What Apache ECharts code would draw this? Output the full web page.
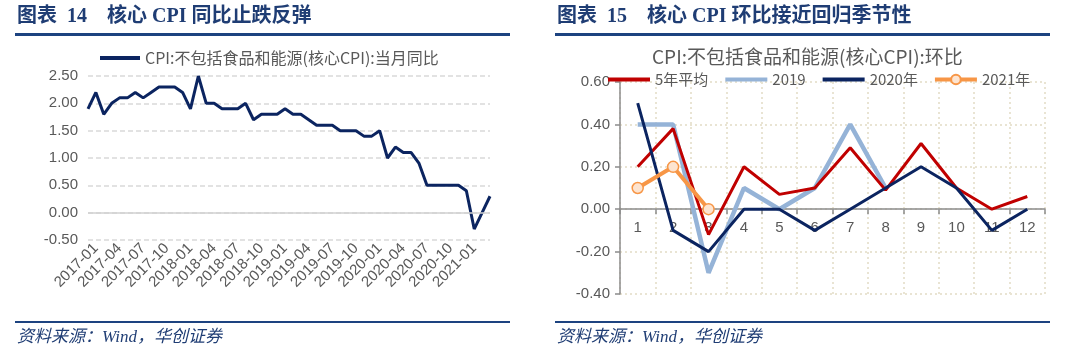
<!DOCTYPE html>
<html>
<head>
<meta charset="utf-8">
<script src="https://cdn.jsdelivr.net/npm/echarts@6/dist/echarts.min.js"></script>
<style>
html,body{margin:0;padding:0;background:#fff;}
#c{width:1080px;height:356px;}
</style>
</head>
<body>
<div id="c"></div>
<script>
// ---- Left chart data: core CPI YoY (%) ----
var yoyMonths = [
 '2016-12',
 '2017-01','2017-02','2017-03','2017-04','2017-05','2017-06','2017-07','2017-08','2017-09','2017-10','2017-11','2017-12',
 '2018-01','2018-02','2018-03','2018-04','2018-05','2018-06','2018-07','2018-08','2018-09','2018-10','2018-11','2018-12',
 '2019-01','2019-02','2019-03','2019-04','2019-05','2019-06','2019-07','2019-08','2019-09','2019-10','2019-11','2019-12',
 '2020-01','2020-02','2020-03','2020-04','2020-05','2020-06','2020-07','2020-08','2020-09','2020-10','2020-11','2020-12',
 '2021-01','2021-02','2021-03'
];
var yoyValues = [
 1.9,
 2.2,1.8,2.0,2.1,2.1,2.2,2.1,2.2,2.3,2.3,2.3,2.2,
 1.9,2.5,2.0,2.0,1.9,1.9,1.9,2.0,1.7,1.8,1.8,1.8,
 1.9,1.8,1.8,1.7,1.6,1.6,1.6,1.5,1.5,1.5,1.4,1.4,
 1.5,1.0,1.2,1.1,1.1,0.9,0.5,0.5,0.5,0.5,0.5,0.4,
 -0.3,0.0,0.3
];
var yoyName = 'CPI:不包括食品和能源(核心CPI):当月同比';

// ---- Right chart data: core CPI MoM (%) ----
var momMonths = ['1','2','3','4','5','6','7','8','9','10','11','12'];
var avg5y  = [0.20, 0.38, -0.12, 0.20, 0.07, 0.10, 0.29, 0.09, 0.31, 0.10, 0.00, 0.06];
var y2019  = [0.40, 0.40, -0.30, 0.10, 0.00, 0.10, 0.40, 0.10, null, null, null, null];
var y2020  = [0.50, -0.10, -0.20, 0.00, 0.00, -0.10, 0.00, 0.10, 0.20, 0.10, -0.10, 0.00];
var y2021  = [0.10, 0.20, 0.00];
var momNames = ['5年平均', '2019', '2020年', '2021年'];
var momTitle = 'CPI:不包括食品和能源(核心CPI):环比';

var chart = echarts.init(document.getElementById('c'), null, {renderer:'canvas'});

var cjk = '"Noto Sans CJK SC", sans-serif';
var num = '"Liberation Sans", Arial, sans-serif';
var grey = '#595959';
var hdrBlue = '#1f3d74';
var lineBlue = '#1d4380';

// right chart geometry (grid)
var rMin = -0.4, rMax = 0.6, rGridH = 212;
var rZeroOffset = -rGridH * (0 - rMin) / (rMax - rMin);

var hdrFont = 'bold 20px "Liberation Serif", "Noto Sans CJK SC"';
var ftrFont = 'italic 17px "Liberation Serif", "Noto Sans CJK SC"';

var option = {
  animation: false,
  backgroundColor: '#ffffff',
  graphic: [
    {type:'text', left:17, top:7, style:{text:'图表  14    核心 CPI 同比止跌反弹', font:hdrFont, fill:hdrBlue}},
    {type:'text', left:557, top:7, style:{text:'图表  15    核心 CPI 环比接近回归季节性', font:hdrFont, fill:hdrBlue}},
    {type:'rect', shape:{x:15, y:33, width:495, height:3}, style:{fill:lineBlue}},
    {type:'rect', shape:{x:555, y:33, width:495, height:3}, style:{fill:lineBlue}},
    {type:'rect', shape:{x:15, y:321, width:495, height:2}, style:{fill:lineBlue}},
    {type:'rect', shape:{x:555, y:321, width:495, height:2}, style:{fill:lineBlue}},
    {type:'text', left:17, top:329, style:{text:'资料来源：Wind，华创证券', font:ftrFont, fill:hdrBlue}},
    {type:'text', left:557, top:329, style:{text:'资料来源：Wind，华创证券', font:ftrFont, fill:hdrBlue}},
    {type:'text', left:652, top:47, style:{text:momTitle, font:'19px "Noto Sans CJK SC"', fill:grey}}
  ],
  legend: [
    {
      left: 98, top: 50, padding: 0,
      itemWidth: 40, itemHeight: 12,
      data: [{name: yoyName, itemStyle: {opacity: 0}, lineStyle: {width: 4}}],
      textStyle: {color: grey, fontSize: 16, fontFamily: cjk}
    },
    {
      left: 606, top: 72, padding: 0,
      itemWidth: 42, itemHeight: 12, itemGap: 15,
      data: [
        {name: momNames[0], itemStyle: {opacity: 0}, lineStyle: {width: 4}},
        {name: momNames[1], itemStyle: {opacity: 0}, lineStyle: {width: 4}},
        {name: momNames[2], itemStyle: {opacity: 0}, lineStyle: {width: 4}},
        {name: momNames[3], lineStyle: {width: 4}}
      ],
      textStyle: {color: grey, fontSize: 15, fontFamily: cjk}
    }
  ],
  grid: [
    {left: 88, right: 590, top: 76, height: 164, containLabel: false},
    {left: 620, right: 35, top: 82, height: rGridH, containLabel: false}
  ],
  xAxis: [
    {
      gridIndex: 0, type: 'category', data: yoyMonths, boundaryGap: false,
      axisLine: {show: false}, axisTick: {show: false},
      axisLabel: {
        rotate: 45, margin: 6, color: grey, fontSize: 15, fontFamily: num,
        interval: function (idx) { return idx % 3 === 1; }
      },
      splitLine: {show: false}
    },
    {
      gridIndex: 1, type: 'category', data: momMonths, boundaryGap: true,
      position: 'bottom', offset: rZeroOffset,
      axisLine: {show: true, onZero: false, lineStyle: {color: '#8c8c8c', width: 1.5}},
      axisTick: {show: true, length: 5, lineStyle: {color: '#8c8c8c', width: 1.5}},
      axisLabel: {color: grey, fontSize: 15, fontFamily: num, margin: 11},
      splitLine: {show: true, lineStyle: {color: '#e9e4d3', width: 2, type: [2, 3]}}
    }
  ],
  yAxis: [
    {
      gridIndex: 0, type: 'value', min: -0.5, max: 2.5, interval: 0.5,
      axisLine: {show: false}, axisTick: {show: false},
      axisLabel: {color: grey, fontSize: 15, fontFamily: num, margin: 10,
        formatter: function (v) { return v.toFixed(2); }},
      splitLine: {show: true, lineStyle: {color: '#d9d9d9', width: 1.5, type: [5, 3]}}
    },
    {
      gridIndex: 1, type: 'value', min: rMin, max: rMax, interval: 0.2,
      axisLine: {show: true, lineStyle: {color: '#8c8c8c', width: 1.5}},
      axisTick: {show: true, length: 5, lineStyle: {color: '#8c8c8c', width: 1.5}},
      axisLabel: {color: grey, fontSize: 15, fontFamily: num, margin: 10,
        formatter: function (v) { return v.toFixed(2); }},
      splitLine: {show: true, lineStyle: {color: '#e9e4d3', width: 2, type: [2, 3]}}
    }
  ],
  series: [
    {
      name: yoyName, type: 'line', xAxisIndex: 0, yAxisIndex: 0,
      data: yoyValues, symbol: 'none', smooth: false,
      lineStyle: {color: '#0b2460', width: 3},
      itemStyle: {color: '#0b2460'},
      markLine: {
        silent: true, symbol: 'none', label: {show: false},
        lineStyle: {color: '#d0d0d0', type: 'solid', width: 1.5},
        data: [{yAxis: 0}]
      }
    },
    {
      name: momNames[1], type: 'line', xAxisIndex: 1, yAxisIndex: 1,
      data: y2019, symbol: 'none',
      lineStyle: {color: '#95b3d7', width: 4.5}, itemStyle: {color: '#95b3d7'}
    },
    {
      name: momNames[0], type: 'line', xAxisIndex: 1, yAxisIndex: 1,
      data: avg5y, symbol: 'none',
      lineStyle: {color: '#c00000', width: 3}, itemStyle: {color: '#c00000'}
    },
    {
      name: momNames[2], type: 'line', xAxisIndex: 1, yAxisIndex: 1,
      data: y2020, symbol: 'none',
      lineStyle: {color: '#0b2460', width: 3}, itemStyle: {color: '#0b2460'}
    },
    {
      name: momNames[3], type: 'line', xAxisIndex: 1, yAxisIndex: 1,
      data: y2021, symbol: 'circle', symbolSize: 11, showSymbol: true,
      lineStyle: {color: '#f79646', width: 4},
      itemStyle: {color: '#fde4d0', borderColor: '#f79646', borderWidth: 1.5}
    }
  ]
};
chart.setOption(option);
</script>
</body>
</html>
